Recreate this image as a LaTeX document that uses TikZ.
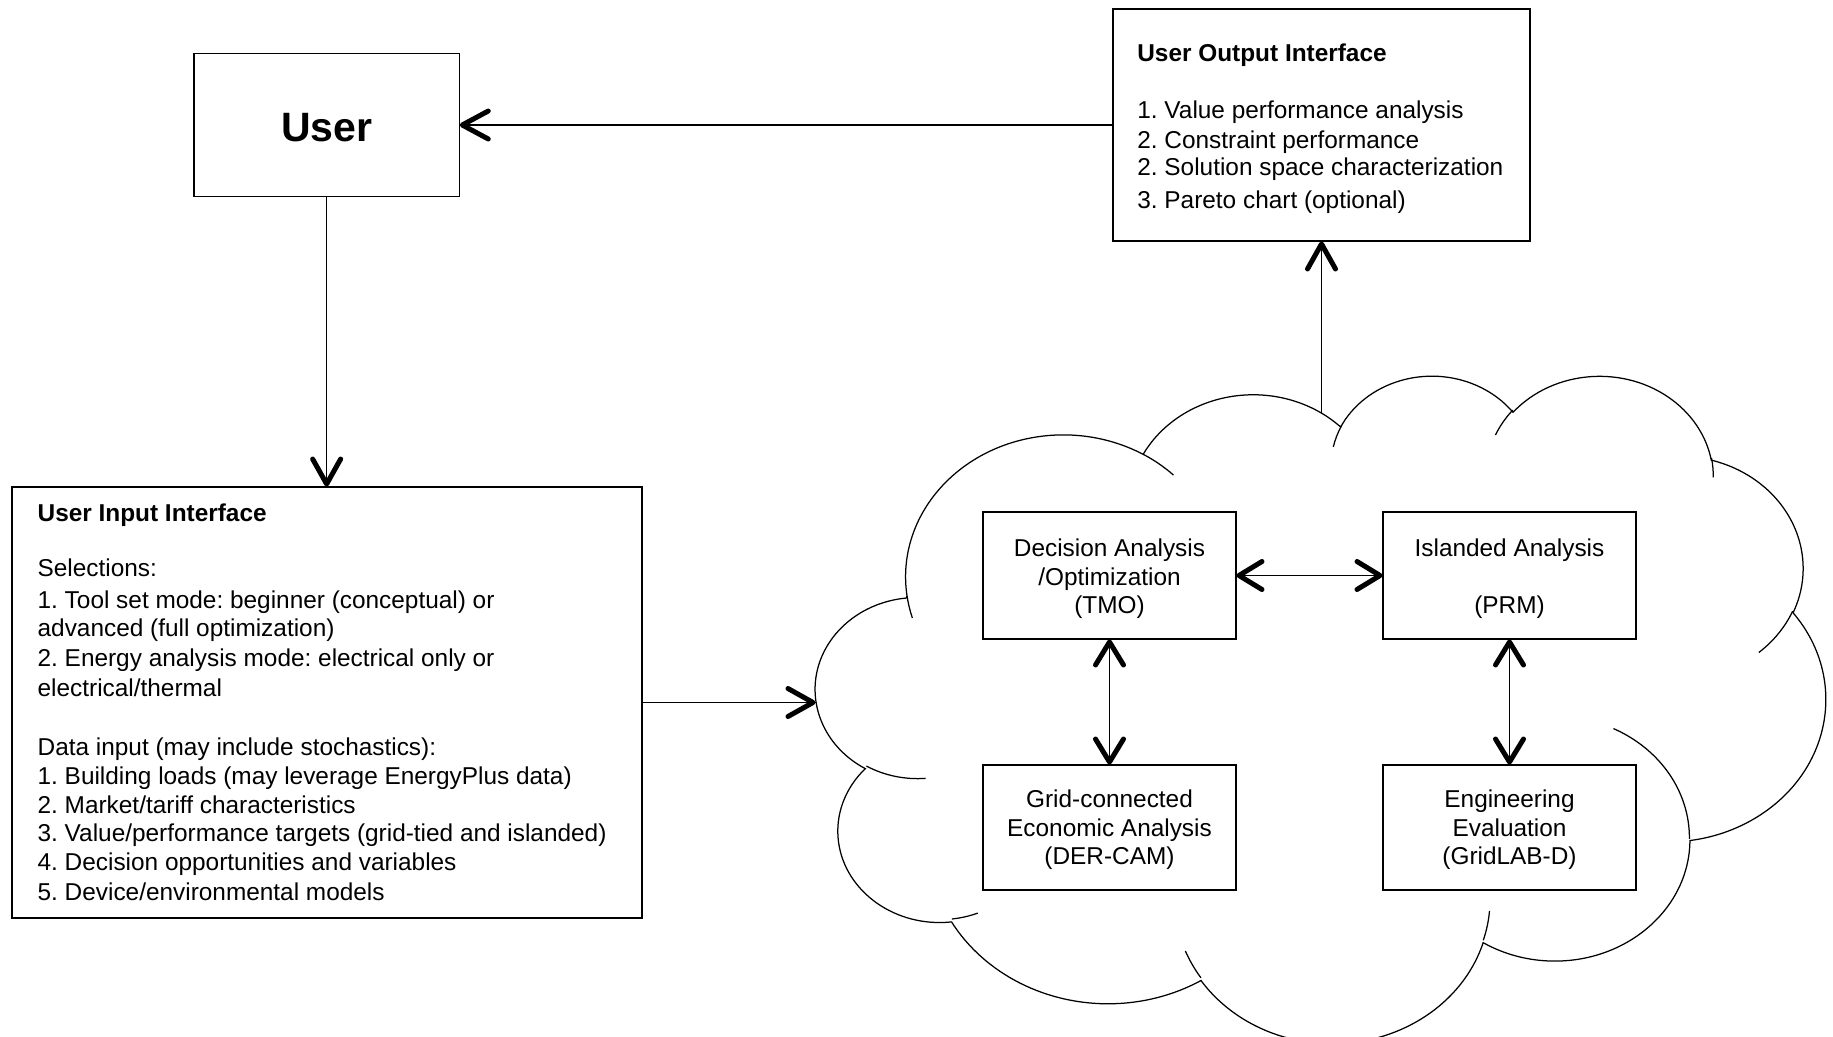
\documentclass[tikz,border=0pt]{standalone}
\usepackage{fontspec}
\setmainfont{Liberation Sans}
\usetikzlibrary{calc}
\newcommand\cldarc[4]{arc[x radius=#1,y radius=#2,start angle={#3+mod(atan2(#1*sin(#3),#2*cos(#3))-(#3)+540,360)-180},end angle={#3+#4+mod(atan2(#1*sin(#3+#4),#2*cos(#3+#4))-(#3+#4)+540,360)-180}]}
\tikzset{
  box/.style={draw,line width=0.03cm,inner sep=0pt,outer sep=0pt},
  conn/.style={line width=0.03cm},
  tipv/.style={line width=0.1cm,line cap=round,line join=round},
  txt/.style={font=\fontsize{13.88pt}{16.2pt}\selectfont\frenchspacing,inner sep=0pt},
  ln/.style={txt,anchor=base west},
  ttl/.style={ln,font=\fontsize{13.88pt}{16.2pt}\selectfont\frenchspacing\bfseries},
  ctxt/.style={txt,align=center},
  cloudline/.style={line width=0.025cm},
}
\begin{document}
\begin{tikzpicture}[x=0.02cm,y=-0.02cm]
\useasboundingbox (0,0) rectangle (1833,1037);
\clip (0,0) rectangle (1833,1037);

% cloud
\begin{scope}[shift={(815.9,374)},x={(0.46746cm,0cm)},y={(0cm,-0.309cm)},cloudline]
  \draw (3.900,14.370)
    \cldarc{6.753}{9.190}{-190.48748}{123.78053}
    \cldarc{5.333}{7.267}{-144.10238}{89.94523}
    \cldarc{4.365}{5.945}{-145.80792}{99.72302}
    \cldarc{4.857}{6.595}{-130.98607}{117.24173}
    \cldarc{5.333}{7.273}{-78.70888}{109.02692}
    \cldarc{6.775}{9.220}{-46.26725}{130.26900}
    \cldarc{5.785}{7.867}{0.62502}{114.03333}
    \cldarc{6.752}{9.215}{22.45160}{115.17255}
    \cldarc{7.720}{10.543}{66.24263}{75.71102}
    \cldarc{4.360}{5.918}{-274.94208}{146.73557}
    \cldarc{4.345}{5.945}{-246.82850}{152.51885}
    -- cycle;
  \draw (4.693,26.177) \cldarc{4.345}{5.945}{86.74200}{26.42950}
        (6.928,34.899) \cldarc{4.360}{5.918}{73.61047}{11.44747}
        (16.478,39.090) \cldarc{6.752}{9.215}{137.62415}{14.08110}
        (28.827,34.751) \cldarc{6.752}{9.215}{6.45327}{15.99835}
        (34.129,22.954) \cldarc{5.785}{7.867}{-70.29235}{70.91737}
        (41.798,15.354) \cldarc{5.333}{7.273}{30.31803}{27.75150}
        (38.324,5.426) \cldarc{4.857}{6.595}{-13.74433}{14.85890}
        (29.078,3.952) \cldarc{4.857}{6.595}{-149.18145}{18.19537}
        (22.141,4.720) \cldarc{4.365}{5.945}{-163.49427}{17.68635}
        (14.000,5.192) \cldarc{6.753}{9.190}{-66.70695}{12.31935}
        (4.127,15.789) \cldarc{6.753}{9.190}{157.65435}{11.85817};
\end{scope}
\coordinate (cloudleft) at (816,702.5);
\coordinate (cloudtop) at (1321.5,412.8);

% User
\node[box,minimum width=5.306cm,minimum height=2.868cm] (user) at (326.65,125) {};
\node[inner sep=0pt,font=\fontsize{23.33pt}{28pt}\selectfont\bfseries] (usert) at (326.65,127.5) {User};

% User Output Interface
\node[box,minimum width=8.34cm,minimum height=4.64cm] (uout) at (1321.5,125) {};
\node[ttl] (uoutt) at (1137,61.7) {User Output Interface};
\node[ln] (uout1) at (1137,118.3) {1. Value performance analysis};
\node[ln] (uout2) at (1137,148.5) {2. Constraint performance};
\node[ln] (uout3) at (1137,176) {2. Solution space characterization};
\node[ln] (uout4) at (1137,208.5) {3. Pareto chart (optional)};

% User Input Interface
\node[box,minimum width=12.6cm,minimum height=8.62cm] (uin) at (327,702.5) {};
\node[ttl] (uint) at (37.3,521.5) {User Input Interface};
\node[ln] (uin1) at (37.3,576) {Selections:};
\node[ln] (uin2) at (37.3,608.5) {1. Tool set mode: beginner (conceptual) or};
\node[ln] (uin3) at (37.3,636) {advanced (full optimization)};
\node[ln] (uin4) at (37.3,666.5) {2. Energy analysis mode: electrical only or};
\node[ln] (uin5) at (37.3,696) {electrical/thermal};
\node[ln] (uin6) at (37.3,755) {Data input (may include stochastics):};
\node[ln] (uin7) at (37.3,784) {1. Building loads (may leverage EnergyPlus data)};
\node[ln] (uin8) at (37.3,813.5) {2. Market/tariff characteristics};
\node[ln] (uin9) at (37.3,841.5) {3. Value/performance targets (grid-tied and islanded)};
\node[ln] (uin10) at (37.3,870.5) {4. Decision opportunities and variables};
\node[ln] (uin11) at (37.3,900.5) {5. Device/environmental models};

% inner boxes
\node[box,minimum width=5.06cm,minimum height=2.54cm] (tmo) at (1109.5,575.5) {};
\node[box,minimum width=5.06cm,minimum height=2.54cm] (prm) at (1509.5,575.5) {};
\node[box,minimum width=5.06cm,minimum height=2.5cm] (der) at (1109.5,827.5) {};
\node[box,minimum width=5.06cm,minimum height=2.5cm] (gld) at (1509.5,827.5) {};
\node[ctxt] (tmot) at (1109.5,578.9) {Decision Analysis\\/Optimization\\(TMO)};
\node[ctxt] (prmt) at (1509.5,578.9) {Islanded Analysis\\[16.2pt](PRM)};
\node[ctxt] (dert) at (1109.5,830) {Grid-connected\\Economic Analysis\\(DER-CAM)};
\node[ctxt] (gldt) at (1509.5,830) {Engineering\\Evaluation\\(GridLAB-D)};

% connectors (shafts)
\draw[conn] (uout.west) -- (user.east);
\draw[conn] (user.south) -- (user.south |- uin.north);
\draw[conn] (uin.east) -- (cloudleft);
\draw[conn] (cloudtop) -- (uout.south);
\draw[conn] (tmo.east) -- (prm.west);
\draw[conn] (tmo.south) -- (der.north);
\draw[conn] (prm.south) -- (gld.north);

% arrowheads (open, bold V)
\draw[tipv] ($(user.east)+(29,-14)$) -- ($(user.east)+(3,0)$) -- ($(user.east)+(29,14)$);
\draw[tipv] ($(user.south |- uin.north)+(-14,-28)$) -- ($(user.south |- uin.north)+(0,-3)$) -- ($(user.south |- uin.north)+(14,-28)$);
\draw[tipv] ($(cloudleft)+(-28,-14)$) -- ($(cloudleft)+(-3,0)$) -- ($(cloudleft)+(-28,14)$);
\draw[tipv] ($(uout.south)+(-14,28)$) -- ($(uout.south)+(0,3)$) -- ($(uout.south)+(14,28)$);
\draw[tipv] ($(tmo.east)+(26,-14)$) -- ($(tmo.east)+(3,0)$) -- ($(tmo.east)+(26,14)$);
\draw[tipv] ($(prm.west)+(-26,-14)$) -- ($(prm.west)+(-3,0)$) -- ($(prm.west)+(-26,14)$);
\draw[tipv] ($(tmo.south)+(-14,26)$) -- ($(tmo.south)+(0,3)$) -- ($(tmo.south)+(14,26)$);
\draw[tipv] ($(der.north)+(-14,-26)$) -- ($(der.north)+(0,-3)$) -- ($(der.north)+(14,-26)$);
\draw[tipv] ($(prm.south)+(-14,26)$) -- ($(prm.south)+(0,3)$) -- ($(prm.south)+(14,26)$);
\draw[tipv] ($(gld.north)+(-14,-26)$) -- ($(gld.north)+(0,-3)$) -- ($(gld.north)+(14,-26)$);
\end{tikzpicture}
\end{document}
